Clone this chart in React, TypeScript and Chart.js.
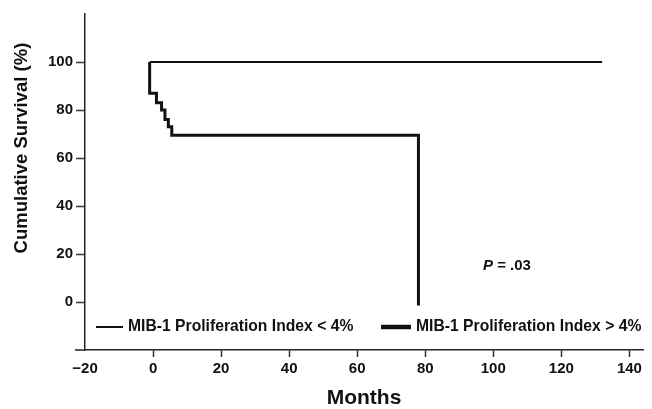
import React, { useEffect, useRef } from "react";
import { Chart, registerables } from "chart.js";

Chart.register(...registerables);

// ---- data ----
const lowMonths = [-1, 132];
const lowSurvival = [100, 100];

const highMonths = [-1, -1, 1, 2.5, 3.5, 4.5, 5.5, 78];
const highSurvival = [100, 87, 83, 80, 76, 73, 69.5, -1.5];

const xTickValues = [-20, 0, 20, 40, 60, 80, 100, 120, 140];
const yTickValues = [0, 20, 40, 60, 80, 100];

const legendLabels = ["MIB-1 Proliferation Index < 4%", "MIB-1 Proliferation Index > 4%"];
const yTitle = "Cumulative Survival (%)";
const xTitle = "Months";
const pValueText = ["P", " = .03"];

const FONT = "'Liberation Sans', Arial, Helvetica, sans-serif";
const INK = "#111";

const overlayPlugin = {
  id: "overlay",
  afterDraw(chart: any) {
    const { ctx, chartArea } = chart;
    ctx.save();
    // x-axis stub left of the y axis
    ctx.strokeStyle = "#222";
    ctx.lineWidth = 1.5;
    ctx.beginPath();
    ctx.moveTo(chartArea.left - 10, chartArea.bottom);
    ctx.lineTo(chartArea.left, chartArea.bottom);
    ctx.stroke();

    // y title
    ctx.fillStyle = INK;
    ctx.font = `bold 18.5px ${FONT}`;
    ctx.textAlign = "center";
    ctx.textBaseline = "middle";
    ctx.translate(22, 148);
    ctx.rotate(-Math.PI / 2);
    ctx.fillText(yTitle, 0, 0);
    ctx.restore();

    // legend
    ctx.save();
    const ly = 327;
    ctx.strokeStyle = INK;
    ctx.lineCap = "butt";
    ctx.lineWidth = 2;
    ctx.beginPath();
    ctx.moveTo(96, ly);
    ctx.lineTo(123, ly);
    ctx.stroke();
    ctx.lineWidth = 4.5;
    ctx.beginPath();
    ctx.moveTo(381, ly);
    ctx.lineTo(411, ly);
    ctx.stroke();
    ctx.fillStyle = INK;
    ctx.font = `bold 15.7px ${FONT}`;
    ctx.textBaseline = "middle";
    ctx.textAlign = "left";
    ctx.fillText(legendLabels[0], 128, ly);
    ctx.fillText(legendLabels[1], 416, ly);

    // P value
    ctx.font = `italic bold 15px ${FONT}`;
    ctx.fillText(pValueText[0], 483, 266);
    const w = ctx.measureText(pValueText[0]).width;
    ctx.font = `bold 15px ${FONT}`;
    ctx.fillText(pValueText[1], 483 + w, 266);
    ctx.restore();
  },
};

export default function App() {
  const canvasRef = useRef<HTMLCanvasElement | null>(null);

  useEffect(() => {
    if (!canvasRef.current) return;
    const chart = new Chart(canvasRef.current, {
      type: "line",
      data: {
        datasets: [
          {
            label: legendLabels[0],
            data: lowMonths.map((m, i) => ({ x: m, y: lowSurvival[i] })),
            borderColor: INK,
            borderWidth: 2,
            pointRadius: 0,
            stepped: "before",
            fill: false,
          },
          {
            label: legendLabels[1],
            data: highMonths.map((m, i) => ({ x: m, y: highSurvival[i] })),
            borderColor: INK,
            borderWidth: 3,
            pointRadius: 0,
            stepped: "before",
            fill: false,
          },
        ],
      },
      options: {
        animation: false,
        responsive: true,
        maintainAspectRatio: false,
        devicePixelRatio: 1,
        layout: { padding: { top: 14, right: 9, left: 0, bottom: 0 } },
        plugins: {
          legend: { display: false },
          tooltip: { enabled: false },
        },
        scales: {
          x: {
            type: "linear",
            min: -20,
            max: 144,
            afterBuildTicks: (scale: any) => {
              scale.ticks = xTickValues.map((v) => ({ value: v }));
            },
            afterFit: (scale: any) => {
              scale.height = 59;
            },
            grid: {
              drawOnChartArea: false,
              drawTicks: true,
              tickLength: 7,
              tickWidth: 1.5,
              color: (c: any) => (c.tick && c.tick.value === -20 ? "rgba(0,0,0,0)" : "#333"),
            },
            border: { display: true, color: "#222", width: 1.5 },
            ticks: {
              font: { family: FONT, size: 15, weight: "bold" },
              color: INK,
              padding: 3,
              maxRotation: 0,
              autoSkip: false,
              callback: (v: any) => (Number(v) < 0 ? "\u2212" + Math.abs(Number(v)) : String(v)),
            },
            title: {
              display: true,
              text: xTitle,
              font: { family: FONT, size: 21, weight: "bold", lineHeight: 1.0 },
              color: INK,
              padding: { top: 0, bottom: 0 },
            },
          },
          y: {
            type: "linear",
            min: -20,
            max: 120,
            afterBuildTicks: (scale: any) => {
              scale.ticks = yTickValues.map((v) => ({ value: v }));
            },
            afterFit: (scale: any) => {
              scale.width = 85;
            },
            grid: {
              drawOnChartArea: false,
              drawTicks: true,
              tickLength: 9,
              tickWidth: 1.5,
              color: "#333",
            },
            border: { display: true, color: "#222", width: 1.5 },
            ticks: {
              font: { family: FONT, size: 15, weight: "bold" },
              color: INK,
              padding: 3,
            },
            title: { display: false },
          },
        },
      },
      plugins: [overlayPlugin],
    } as any);
    return () => chart.destroy();
  }, []);

  return (
    <div style={{ position: "fixed", left: 0, top: 0, width: 652, height: 409, background: "#fff" }}>
      <canvas ref={canvasRef} />
    </div>
  );
}
